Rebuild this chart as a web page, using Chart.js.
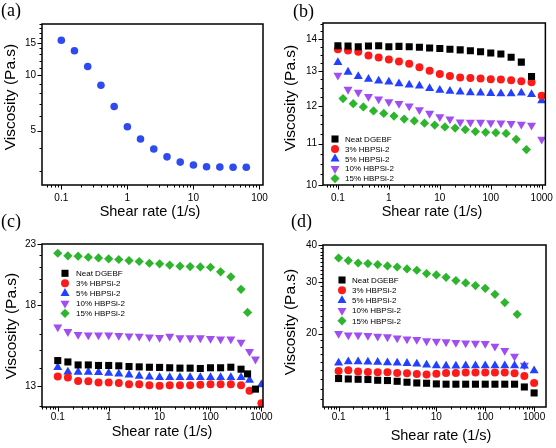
<!DOCTYPE html>
<html><head><meta charset="utf-8">
<script src="https://cdn.jsdelivr.net/npm/chart.js@4.4.0/dist/chart.umd.min.js"></script>
<style>
html,body{margin:0;padding:0;background:#fff;}
#wrap{position:relative;width:556px;height:448px;overflow:hidden;background:#fff;}
canvas{position:absolute;}
</style></head><body>
<div id="wrap">
<canvas id="ca" width="278" height="224" style="left:0;top:0"></canvas>
<canvas id="cb" width="278" height="224" style="left:278px;top:0"></canvas>
<canvas id="cc" width="278" height="238" style="left:0;top:210px"></canvas>
<canvas id="cd" width="278" height="238" style="left:278px;top:210px"></canvas>
</div>
<script>
// ---------- data ----------
const seriesNames = ['Neat DGEBF','3% HBPSi-2','5% HBPSi-2','10% HBPSi-2','15% HBPSi-2'];
const rates = [0.1,0.158,0.251,0.398,0.631,1,1.58,2.51,3.98,6.31,10,15.8,25.1,39.8,63.1,100,158,251,398,631,1000];
const ratesOffset = [0.126,0.2,0.316,0.5,0.794,1.26,2,3.16,5,7.94,12.6,20,31.6,50,79.4,126,200,316,501];

// panel (a)
const aX = [0.1,0.158,0.251,0.398,0.631,1,1.58,2.51,3.98,6.31,10,15.8,25.1,39.8,63.1];
const aY = [15.5,13.6,11.15,8.83,6.76,5.25,4.5,3.97,3.6,3.37,3.25,3.18,3.17,3.16,3.16];

// panel (b)
const bNeat   = [13.78,13.77,13.75,13.77,13.78,13.75,13.76,13.75,13.73,13.71,13.69,13.67,13.65,13.62,13.59,13.55,13.52,13.42,13.27,12.84];
const bRed    = [13.67,13.63,13.59,13.47,13.41,13.35,13.29,13.22,13.11,13.01,12.91,12.85,12.81,12.79,12.78,12.76,12.75,12.73,12.70,12.67,12.28];
const bBlue   = [13.26,12.97,12.84,12.76,12.71,12.68,12.63,12.59,12.56,12.49,12.44,12.41,12.39,12.37,12.36,12.35,12.34,12.34,12.36,12.32,12.14];
const bPurple = [12.87,12.46,12.38,12.26,12.19,12.11,12.06,11.99,11.89,11.79,11.70,11.64,11.56,11.55,11.55,11.54,11.53,11.52,11.50,11.47,11.11];
const bGreen  = [12.20,12.06,11.97,11.86,11.79,11.72,11.64,11.59,11.53,11.48,11.43,11.40,11.36,11.31,11.29,11.28,11.26,11.11,10.85];

// panel (c)
const cNeatX   = rates.slice(0,19).concat([535,764]);
const cNeat    = [14.40,14.32,14.15,14.15,14.12,14.12,14.10,14.06,14.04,14.02,14.01,13.99,13.97,13.97,13.95,13.99,13.99,14.02,13.91,13.65,12.84];
const cRedX    = rates.slice(0,19).concat([585,1000]);
const cRed     = [13.51,13.46,13.26,13.25,13.19,13.19,13.16,13.10,13.09,13.04,13.02,13.04,13.04,13.04,13.07,13.09,13.09,13.10,13.04,12.76,12.13];
const cBlueX   = rates.slice(0,19).concat([585,1000]);
const cBlue    = [14.01,13.76,13.75,13.75,13.73,13.69,13.65,13.60,13.53,13.48,13.46,13.46,13.46,13.46,13.46,13.46,13.46,13.46,13.46,13.31,13.07];
const cPurpleX = rates.slice(0,19).concat([585,764]);
const cPurple  = [16.47,16.17,15.98,15.95,15.95,15.95,15.92,15.89,15.87,15.83,15.79,15.87,15.77,15.77,15.77,15.73,15.70,15.70,15.49,14.93,14.48];
const cGreenX  = rates.slice(0,19).concat([535]);
const cGreen   = [22.16,21.93,21.90,21.81,21.75,21.67,21.61,21.52,21.44,21.29,21.24,21.13,21.04,21.01,20.98,20.95,20.57,20.16,19.17,17.47];

// panel (d)
const dNeat   = [14.07,14.02,13.99,13.96,13.88,13.85,13.77,13.67,13.59,13.56,13.49,13.46,13.46,13.46,13.46,13.46,13.46,13.46,13.46,13.17,12.57];
const dRed    = [14.92,15.01,14.86,14.81,14.77,14.77,14.69,14.66,14.58,14.51,14.62,14.69,14.69,14.74,14.74,14.74,14.74,14.74,14.66,14.35,13.59];
const dBlue   = [15.89,16.06,16.06,16.01,15.98,15.94,15.89,15.85,15.77,15.64,15.57,15.52,15.52,15.57,15.57,15.57,15.57,15.57,15.57,15.52,14.97];
const dPurple = [20.00,19.78,19.78,19.69,19.58,19.48,19.32,19.17,19.08,18.88,18.83,18.73,18.64,18.58,18.54,18.50,18.11,17.51,16.75,15.61];
const dGreenX = rates.slice(0,18).concat([450]);
const dGreen  = [36.13,35.40,34.75,34.59,34.32,33.95,33.68,33.16,32.83,31.99,31.64,31.07,30.28,29.72,29.12,28.51,27.20,25.49,23.26];

// tick labels
const xTicksA = [0.1,1,10,100];
const xTicksB = [0.1,1,10,100,1000];
const yTicksA = [5,10,15];
const yTicksB = [10,11,12,13,14];
const yTicksC = [13,18,23];
const yTicksD = [20,30,40];

// ---------- styles ----------
const COLORS = ['#000000','#ff1a1a','#2240ff','#a04ef2','#2db52d'];
const STYLES = [
  {pointStyle:'rect', pointRadius:5, pointRotation:0},
  {pointStyle:'circle', pointRadius:4, pointRotation:0},
  {pointStyle:'triangle', pointRadius:5.2, pointRotation:0},
  {pointStyle:'triangle', pointRadius:5.2, pointRotation:180},
  {pointStyle:'rectRot', pointRadius:4.6, pointRotation:0}
];
const SANS = '"Liberation Sans", Arial, Helvetica, sans-serif';
const SERIF = '"Liberation Serif", "Times New Roman", serif';

function pts(xs, ys){ return ys.map((y,i)=>({x:xs[i], y:y})); }
function series(list){
  return list.map((s,i)=>Object.assign({
    label: seriesNames[i], data: pts(s[0], s[1]),
    backgroundColor: COLORS[i], borderWidth:0, showLine:false
  }, STYLES[i]));
}
function logMinor(min,max){
  const out=[];
  for(let e=-2;e<=3;e++) for(let m=2;m<=9;m++){ const v=m*Math.pow(10,e); if(v>=min && v<=max) out.push(v); }
  return out;
}
function linMinor(min,max,step,majors){
  const out=[];
  for(let v=Math.ceil(min/step)*step; v<=max+1e-9; v+=step){
    const r=Math.round(v*1000)/1000;
    if(!majors.some(m=>Math.abs(m-r)<1e-6)) out.push(r);
  }
  return out;
}

function drawMarker(ctx, ds, x, y){
  ctx.fillStyle = ds.backgroundColor;
  if (Chart.helpers && Chart.helpers.drawPoint) {
    Chart.helpers.drawPoint(ctx, {pointStyle: ds.pointStyle, radius: ds.pointRadius, rotation: ds.pointRotation||0, borderWidth:0}, x, y);
  } else {
    ctx.beginPath(); ctx.arc(x,y,ds.pointRadius,0,Math.PI*2); ctx.fill();
  }
}

const deco = {
  id:'deco',
  afterDraw(chart){
    const o = chart.options.plugins.deco; if(!o) return;
    const ctx = chart.ctx, ca = chart.chartArea, xs = chart.scales.x, ys = chart.scales.y;
    ctx.save();
    ctx.strokeStyle='#000'; ctx.lineWidth=1;
    ctx.beginPath();
    const xt=(v,l)=>{const p=Math.round(xs.getPixelForValue(v))+0.5; ctx.moveTo(p,ca.bottom); ctx.lineTo(p,ca.bottom+l);};
    const yt=(v,l)=>{const p=Math.round(ys.getPixelForValue(v))+0.5; ctx.moveTo(ca.left,p); ctx.lineTo(ca.left-l,p);};
    o.xMajor.forEach(v=>xt(v,4.5)); o.xMinor.forEach(v=>xt(v,2.5));
    o.yMajor.forEach(v=>yt(v,4.5)); o.yMinor.forEach(v=>yt(v,2.5));
    ctx.stroke();
    ctx.lineWidth=1.5;
    ctx.strokeRect(ca.left,ca.top,ca.right-ca.left,ca.bottom-ca.top);
    ctx.fillStyle='#000';
    ctx.textAlign='center'; ctx.textBaseline='middle';
    ctx.font='14.5px '+SANS;
    ctx.fillText('Shear rate (1/s)', o.xt[0], o.xt[1]);
    ctx.save(); ctx.translate(o.yt[0],o.yt[1]); ctx.rotate(-Math.PI/2);
    ctx.font='15.5px '+SANS; ctx.fillText('Viscosity (Pa.s)',0,0); ctx.restore();
    ctx.font='18px '+SERIF; ctx.textAlign='left';
    ctx.fillText(o.label, o.lp[0], o.lp[1]);
    if(o.legend){
      const L=o.legend;
      chart.data.datasets.forEach((ds,i)=>{
        const y=L.y+i*L.dy;
        drawMarker(ctx, ds, L.mx, y);
        ctx.fillStyle='#000'; ctx.font='8px '+SANS; ctx.textAlign='left'; ctx.textBaseline='middle';
        ctx.fillText(ds.label, L.tx, y+0.5);
      });
    }
    ctx.restore();
  }
};

function makeChart(id, c){
  const cv=document.getElementById(id);
  const W=cv.width, H=cv.height;
  const tickFont={family:SANS, size:10};
  return new Chart(cv, {
    type:'scatter',
    data:{datasets:c.datasets},
    options:{
      responsive:false, animation:false, events:[],
      layout:{padding:{left:0, top:c.area.top, right:W-c.area.right, bottom:0}},
      scales:{
        x:{type:'logarithmic', min:c.xMin, max:c.xMax,
           afterFit:s=>{s.height=H-c.area.bottom;},
           afterBuildTicks:s=>{s.ticks=c.xTicks.map(v=>({value:v}));},
           ticks:{callback:v=>String(v), font:tickFont, color:'#000', padding:c.xPad, autoSkip:false, maxRotation:0, minRotation:0},
           grid:{display:false, drawTicks:true, tickLength:4}, border:{display:false}},
        y:{type:'logarithmic', min:c.yMin, max:c.yMax,
           afterFit:s=>{s.width=c.area.left;},
           afterBuildTicks:s=>{s.ticks=c.yTicks.map(v=>({value:v}));},
           ticks:{callback:v=>String(v), font:tickFont, color:'#000', padding:2, autoSkip:false},
           grid:{display:false, drawTicks:true, tickLength:4}, border:{display:false}}
      },
      plugins:{legend:{display:false}, tooltip:{enabled:false},
        deco:{xMajor:c.xTicks, xMinor:logMinor(c.xMin,c.xMax), yMajor:c.yTicks, yMinor:c.yMinor,
              xt:c.xt, yt:c.yt, lp:c.lp, label:c.label, legend:c.legend}}
    },
    plugins:[deco]
  });
}

// (a)
makeChart('ca', {
  datasets:[{label:'a', data:pts(aX,aY), backgroundColor:'#2f4bf0', borderWidth:0, pointStyle:'circle', pointRadius:3.8, showLine:false}],
  area:{left:42, right:263, top:24, bottom:185},
  xMin:0.051, xMax:113, yMin:2.53, yMax:19.0, xPad:3,
  xTicks:xTicksA, yTicks:yTicksA, yMinor:[3,4,6,7,8,9,11,12,13,14,16,17,18,19],
  xt:[150,212], yt:[11,97], lp:[1,11], label:'(a)'
});
// (b)
makeChart('cb', {
  datasets:series([[rates,bNeat],[rates,bRed],[rates,bBlue],[rates,bPurple],[ratesOffset,bGreen]]),
  area:{left:45, right:268, top:23, bottom:185},
  xMin:0.051, xMax:1180, yMin:10, yMax:14.52, xPad:3,
  xTicks:xTicksB, yTicks:yTicksB, yMinor:linMinor(10,14.5,0.25,yTicksB),
  xt:[154,212], yt:[13,98], lp:[15,12], label:'(b)',
  legend:{mx:57, tx:67, y:139, dy:9.9}
});
// (c)
makeChart('cc', {
  datasets:series([[cNeatX,cNeat],[cRedX,cRed],[cBlueX,cBlue],[cPurpleX,cPurple],[cGreenX,cGreen]]),
  area:{left:42, right:263, top:34, bottom:197},
  xMin:0.049, xMax:1075, yMin:11.95, yMax:23, xPad:0,
  xTicks:xTicksB, yTicks:yTicksC, yMinor:linMinor(12,23,1,yTicksC),
  xt:[162,222], yt:[12,116], lp:[1,12], label:'(c)',
  legend:{mx:65, tx:76, y:63.3, dy:10}
});
// (d)
makeChart('cd', {
  datasets:series([[rates,dNeat],[rates,dRed],[rates,dBlue],[rates,dPurple],[dGreenX,dGreen]]),
  area:{left:45, right:268, top:35, bottom:197},
  xMin:0.048, xMax:1750, yMin:11.26, yMax:40, xPad:0,
  xTicks:xTicksB, yTicks:yTicksD, yMinor:linMinor(12,40,1,yTicksD),
  xt:[163,226], yt:[13,112], lp:[13,12], label:'(d)',
  legend:{mx:64, tx:74, y:70, dy:10.2}
});
</script>
</body></html>
